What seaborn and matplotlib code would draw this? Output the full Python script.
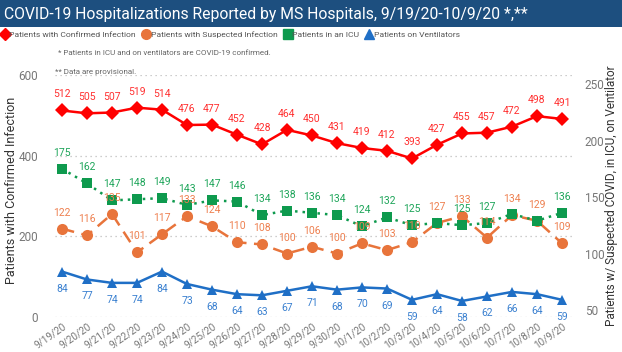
import matplotlib
matplotlib.use("Agg")
import matplotlib.pyplot as plt
from matplotlib.lines import Line2D
from matplotlib.patches import Rectangle
import numpy as np
import pandas as pd
import seaborn as sns

dates = ["9/19/20", "9/20/20", "9/21/20", "9/22/20", "9/23/20", "9/24/20", "9/25/20",
         "9/26/20", "9/27/20", "9/28/20", "9/29/20", "9/30/20", "10/1/20", "10/2/20",
         "10/3/20", "10/4/20", "10/5/20", "10/6/20", "10/7/20", "10/8/20", "10/9/20"]
confirmed = [512, 505, 507, 519, 514, 476, 477, 452, 428, 464, 450, 431, 419, 412,
             393, 427, 455, 457, 472, 498, 491]
suspected = [122, 116, 135, 101, 117, 133, 124, 110, 108, 100, 106, 100, 109, 103,
             110, 127, 133, 114, 134, 129, 109]
icu = [175, 162, 147, 148, 149, 143, 147, 146, 134, 138, 136, 134, 124, 132,
       125, 127, 125, 127, 135, 129, 136]
ventilators = [84, 77, 74, 74, 84, 73, 68, 64, 63, 67, 71, 68, 70, 69,
               59, 64, 58, 62, 66, 64, 59]
# ICU labels hidden in the reference (overlapping)
icu_hidden = {"10/4/20", "10/7/20", "10/8/20"}

sns.set_theme(style="white")
plt.rcParams['font.family'] = ['Roboto', 'DejaVu Sans']

RED = "#FF0000"
ORANGE = "#E8743B"
GREEN = "#0E9A4E"
BLUE = "#1F6FC6"
LABEL_FONT = ['Roboto', 'DejaVu Sans']

df = pd.DataFrame({"x": np.arange(len(dates)), "date": dates, "confirmed": confirmed,
                   "suspected": suspected, "icu": icu, "vent": ventilators})

W, H = 622, 352
fig = plt.figure(figsize=(W / 100, H / 100), dpi=100)
ax = fig.add_axes([55 / W, 1 - 317 / H, 520 / W, 242 / H])
ax2 = ax.twinx()

# title bar
fig.patches.append(Rectangle((0, 1 - 27 / H), 1, 27 / H, transform=fig.transFigure,
                             facecolor="#1D4F7F", edgecolor="none", zorder=0))
fig.text(4 / W, 1 - 14 / H, "COVID-19 Hospitalizations Reported by MS Hospitals, 9/19/20-10/9/20 *,**",
         color="white", fontsize=11.3, va="center", ha="left", family=LABEL_FONT)

sns.lineplot(data=df, x="x", y="confirmed", ax=ax, color=RED, lw=1.8, marker="D",
             markersize=7, markeredgewidth=0)
sns.lineplot(data=df, x="x", y="suspected", ax=ax2, color=ORANGE, lw=1.8, marker="o",
             markersize=8, markeredgewidth=0, linestyle=(0, (5, 3)))
sns.lineplot(data=df, x="x", y="icu", ax=ax2, color=GREEN, lw=1.8, marker="s",
             markersize=6.5, markeredgewidth=0, linestyle=(0, (1, 2)))
sns.lineplot(data=df, x="x", y="vent", ax=ax2, color=BLUE, lw=1.8, marker="^",
             markersize=7.5, markeredgewidth=0)

ax.set_ylim(0, 600)
ax2.set_ylim(43.8, 258)
ax.set_xlim(-0.28, 20.52)
ax.set_yticks([0, 200, 400, 600])
ax2.set_yticks([50, 100, 150, 200, 250])
ax.set_xticks(df["x"])
ax.set_xticklabels(dates, rotation=35, ha="right", rotation_mode="anchor",
                   fontsize=7.2, color="#777777")
ax.tick_params(axis="x", length=0, pad=3)
ax.tick_params(axis="y", length=0, pad=12, labelsize=8.5, labelcolor="#777777")
ax2.tick_params(axis="y", length=0, pad=7, labelsize=8.5, labelcolor="#777777")
for a in (ax, ax2):
    for s in a.spines.values():
        s.set_visible(False)
    a.set_xlabel("")
    a.set_ylabel("")
ax.yaxis.grid(True, color="#BDBDBD", lw=0.9, linestyle=(0, (1, 3)))
ax.set_axisbelow(True)
ax2.grid(False)

# data labels
for xi, v in zip(df["x"], confirmed):
    ax.annotate(str(v), (xi, v), xytext=(0, 16), textcoords="offset pixels",
                ha="center", va="center", fontsize=7.5, color="#FF3030", family=LABEL_FONT)
for xi, v in zip(df["x"], suspected):
    ax2.annotate(str(v), (xi, v), xytext=(0, 16), textcoords="offset pixels",
                 ha="center", va="center", fontsize=7.5, color="#EE8050", family=LABEL_FONT)
for xi, d, v in zip(df["x"], dates, icu):
    if d in icu_hidden:
        continue
    ax2.annotate(str(v), (xi, v), xytext=(0, 16), textcoords="offset pixels",
                 ha="center", va="center", fontsize=7.5, color="#1EA55A", family=LABEL_FONT)
for xi, v in zip(df["x"], ventilators):
    ax2.annotate(str(v), (xi, v), xytext=(0, -17), textcoords="offset pixels",
                 ha="center", va="center", fontsize=7.5, color="#3A80D0", family=LABEL_FONT)

# axis titles
fig.text(12 / W, 1 - 190 / H, "Patients with Confirmed Infection", rotation=90,
         ha="center", va="center", fontsize=9, color="#333333")
fig.text(612 / W, 1 - 196 / H, "Patients w/ Suspected COVID, in ICU, on Ventilator",
         rotation=90, ha="center", va="center", fontsize=8.5, color="#333333")

# legend
handles = [
    Line2D([], [], color=RED, marker="D", linestyle="none", markersize=6),
    Line2D([], [], color=ORANGE, marker="o", linestyle="none", markersize=7),
    Line2D([], [], color=GREEN, marker="s", linestyle="none", markersize=6.5),
    Line2D([], [], color=BLUE, marker="^", linestyle="none", markersize=7),
]
labels = ["Patients with Confirmed Infection", "Patients with Suspected Infection",
          "Patients in an ICU", "Patients on Ventilators"]
fig.legend(handles, labels, loc="center left", bbox_to_anchor=(2 / W, 1 - 35 / H),
           ncol=4, frameon=False, fontsize=6.1, handlelength=0.6, handletextpad=0.25,
           columnspacing=0.9, labelcolor="#555555", borderaxespad=0, borderpad=0)

# notes
fig.text(58 / W, 1 - 53 / H, "* Patients in ICU and on ventilators are COVID-19 confirmed.",
         fontsize=5.8, color="#666666", va="center", ha="left")
fig.text(55 / W, 1 - 72 / H, "** Data are provisional.",
         fontsize=5.8, color="#666666", va="center", ha="left")

fig.savefig("out.png", dpi=100)
